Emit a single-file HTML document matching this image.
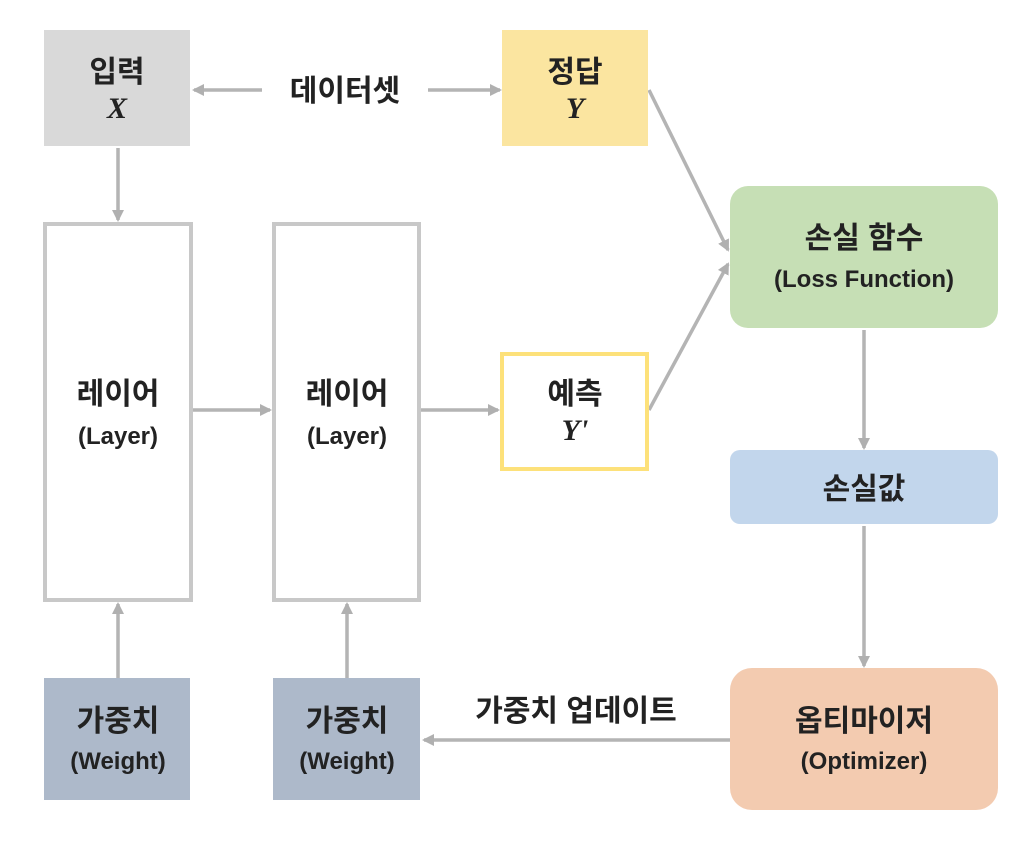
<!DOCTYPE html>
<html><head><meta charset="utf-8"><style>
body{margin:0;background:#fff}
svg text{font-family:"Liberation Sans","Noto Sans CJK KR",sans-serif;font-weight:bold;fill:#222;text-anchor:middle}
.m{font-family:"Liberation Serif",serif;font-style:italic}
</style></head><body>
<svg width="1020" height="840" viewBox="0 0 1020 840" xmlns="http://www.w3.org/2000/svg">
<defs><marker id="a" markerWidth="12" markerHeight="12" refX="10" refY="6" orient="auto" markerUnits="userSpaceOnUse"><path d="M0,0 L12,6 L0,12 z" fill="#b0b0b0"/></marker></defs>
<g stroke="#b4b4b4" stroke-width="3.5" fill="none" marker-end="url(#a)">
<line x1="262" y1="90" x2="194" y2="90"/>
<line x1="428" y1="90" x2="500" y2="90"/>
<line x1="118" y1="148" x2="118" y2="220"/>
<line x1="193" y1="410" x2="270" y2="410"/>
<line x1="421" y1="410" x2="498" y2="410"/>
<line x1="649" y1="90" x2="728" y2="250"/>
<line x1="649" y1="410" x2="728" y2="264"/>
<line x1="864" y1="330" x2="864" y2="448"/>
<line x1="864" y1="526" x2="864" y2="666"/>
<line x1="730" y1="740" x2="424" y2="740"/>
<line x1="118" y1="678" x2="118" y2="604"/>
<line x1="347" y1="678" x2="347" y2="604"/>
</g>
<rect x="44" y="30" width="146" height="116" fill="#d9d9d9"/>
<rect x="502" y="30" width="146" height="116" fill="#fbe5a0"/>
<rect x="45" y="224" width="146" height="376" fill="#fff" stroke="#c8c8c8" stroke-width="4"/>
<rect x="274" y="224" width="145" height="376" fill="#fff" stroke="#c8c8c8" stroke-width="4"/>
<rect x="502" y="354" width="145" height="115" fill="#fff" stroke="#fde17a" stroke-width="4"/>
<rect x="730" y="186" width="268" height="142" rx="18" fill="#c6dfb5"/>
<rect x="730" y="450" width="268" height="74" rx="10" fill="#c2d6ec"/>
<rect x="730" y="668" width="268" height="142" rx="22" fill="#f3cbb0"/>
<rect x="44" y="678" width="146" height="122" fill="#adb9ca"/>
<rect x="273" y="678" width="147" height="122" fill="#adb9ca"/>
<g font-size="30">
<text x="117" y="82">입력</text>
<text x="575" y="82">정답</text>
<text x="345" y="101">데이터셋</text>
<text x="118" y="404">레이어</text>
<text x="347" y="404">레이어</text>
<text x="575" y="404">예측</text>
<text x="864" y="248">손실 함수</text>
<text x="864" y="499">손실값</text>
<text x="864" y="731">옵티마이저</text>
<text x="118" y="731">가중치</text>
<text x="347" y="731">가중치</text>
<text x="576" y="721">가중치 업데이트</text>
</g>
<g font-size="30">
<text class="m" x="117" y="118">X</text>
<text class="m" x="575" y="118">Y</text>
<text class="m" x="575" y="440">Y'</text>
</g>
<g font-size="24">
<text x="118" y="444">(Layer)</text>
<text x="347" y="444">(Layer)</text>
<text x="864" y="287">(Loss Function)</text>
<text x="864" y="769">(Optimizer)</text>
<text x="118" y="769">(Weight)</text>
<text x="347" y="769">(Weight)</text>
</g>
</svg>
</body></html>
